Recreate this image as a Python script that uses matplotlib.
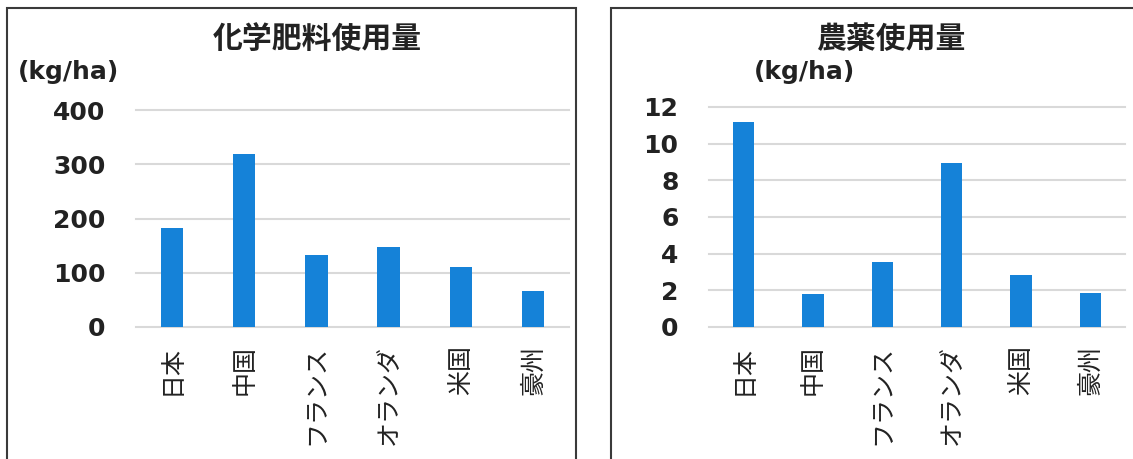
import matplotlib
matplotlib.use("Agg")
import matplotlib.pyplot as plt
from matplotlib.patches import Rectangle

categories = ["日本", "中国", "フランス", "オランダ", "米国", "豪州"]
fertilizer = [182, 319, 132, 147, 110, 66]
pesticide = [11.18, 1.82, 3.56, 8.95, 2.81, 1.88]
fert_ticks = [0, 100, 200, 300, 400]
pest_ticks = [0, 2, 4, 6, 8, 10, 12]

W, H = 1133, 459
fig = plt.figure(figsize=(W / 100, H / 100), dpi=100)

BAR = "#1582d8"
GRID = "#d9d9d9"
NUM_FONT = ["DejaVu Sans"]
CJK = ["Noto Sans CJK JP", "DejaVu Sans"]


def fx(px):
    return px / W


def fy(py):
    return 1 - py / H


def panel(x0, x1, ax_left, ax_right, ax_top, values, ticks, title, title_x, unit_x):
    # border
    fig.patches.append(Rectangle((fx(x0), fy(470)), fx(x1) - fx(x0), fy(8) - fy(470),
                                 transform=fig.transFigure, fill=False,
                                 edgecolor="#3a3a3a", linewidth=1.5))
    ax = fig.add_axes([fx(ax_left), fy(327), fx(ax_right) - fx(ax_left), fy(ax_top) - fy(327)])
    x = range(len(categories))
    ax.bar(x, values, width=0.31, color=BAR, zorder=3)
    ax.set_xlim(-0.5, len(categories) - 0.5)
    ax.set_ylim(ticks[0], ticks[-1])
    ax.set_yticks(ticks)
    ax.set_yticklabels([str(t) for t in ticks], fontsize=18, fontweight="bold",
                       family=NUM_FONT, color="#222222")
    ax.set_xticks(list(x))
    ax.set_xticklabels(categories, rotation=90, fontsize=18, family=CJK,
                       va="top", ha="center", color="#222222")
    ax.tick_params(axis="y", length=0, pad=22)
    ax.tick_params(axis="x", length=0, pad=13)
    for s in ax.spines.values():
        s.set_visible(False)
    ax.grid(axis="y", color=GRID, linewidth=1.5, zorder=0)
    for gl in ax.get_ygridlines():
        gl.set_clip_on(False)
    ax.set_axisbelow(True)
    ax.patch.set_alpha(0)
    fig.text(fx(title_x), fy(39), title, fontsize=21.5, fontweight="bold", family=CJK,
             ha="center", va="center", color="#222222")
    fig.text(fx(unit_x), fy(72), "(kg/ha)", fontsize=18, fontweight="bold",
             family=NUM_FONT, ha="left", va="center", color="#222222")
    return ax


panel(7, 576, 136, 569, 110, fertilizer, fert_ticks, "化学肥料使用量", 317, 18)
panel(611, 1140, 709, 1125, 107, pesticide, pest_ticks, "農薬使用量", 891, 754)

fig.savefig("out.png", dpi=100, facecolor="white")
